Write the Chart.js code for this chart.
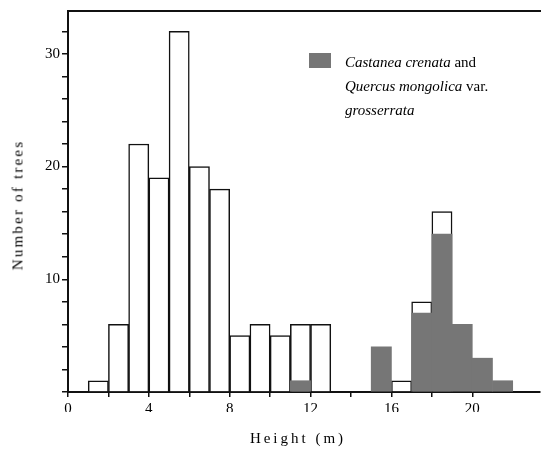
<!DOCTYPE html>
<html>
<head>
<meta charset="utf-8">
<script src="https://cdn.jsdelivr.net/npm/chart.js@4/dist/chart.umd.min.js"></script>
<style>
  html, body { margin: 0; padding: 0; background: #fff; }
  #wrap { position: relative; width: 546px; height: 454px; font-family: "Liberation Serif", "DejaVu Serif", serif; color: #000; }
  #myChart { position: absolute; left: 0; top: 0; }
  .legend { position: absolute; left: 309px; top: 50px; font-size: 15px; line-height: 24px; }
  .legend .sw { position: absolute; left: 0; top: 3px; width: 22px; height: 15px; background: #767676; }
  .legend .txt { position: absolute; left: 36px; top: 0; white-space: nowrap; }
  .xtitle { position: absolute; left: 0; width: 596px; top: 430px; text-align: center; font-size: 15px; letter-spacing: 3px; }
  .ytitle { position: absolute; left: 18px; top: 205px; font-size: 15px; letter-spacing: 2.2px; white-space: nowrap; transform: translate(-50%, -50%) rotate(-90deg); }
</style>
</head>
<body>
<div id="wrap">
  <canvas id="myChart" width="546" height="454"></canvas>
  <div class="legend">
    <div class="sw"></div>
    <div class="txt"><i>Castanea crenata</i> and<br><i>Quercus mongolica</i> var.<br><i>grosserrata</i></div>
  </div>
  <div class="xtitle">Height (m)</div>
  <div class="ytitle">Number of trees</div>
</div>
<script>
// bins are 1 m wide, listed by their lower edge
const binStart = [1, 2, 3, 4, 5, 6, 7, 8, 9, 10, 11, 12, 13, 14, 15, 16, 17, 18, 19, 20, 21];
const allTrees = [1, 6, 22, 19, 32, 20, 18, 5, 6, 5, 6, 6, 0, 0, 4, 1, 8, 16, 6, 3, 1];
const oakChestnut = [0, 0, 0, 0, 0, 0, 0, 0, 0, 0, 1, 0, 0, 0, 4, 0, 7, 14, 6, 3, 1];
const xLabels = [0, 4, 8, 12, 16, 20];
const yLabels = [10, 20, 30];

const whiteData = binStart.map((s, i) => ({ x: s + 0.5, y: allTrees[i] > oakChestnut[i] ? allTrees[i] : null }));
const greyData = binStart.map((s, i) => ({ x: s + 0.5, y: oakChestnut[i] > 0 ? oakChestnut[i] : null }));

const tickFont = { family: "Liberation Serif", size: 15 };

const config = {
  type: "bar",
  data: {
    datasets: [
      {
        label: "Castanea crenata and Quercus mongolica var. grosserrata",
        data: greyData,
        backgroundColor: "#767676",
        borderWidth: 0,
        grouped: false,
        barPercentage: 1,
        categoryPercentage: 1,
      },
      {
        label: "All trees",
        data: whiteData,
        backgroundColor: "#fff",
        borderColor: "#111",
        borderWidth: 1.5,
        grouped: false,
        barPercentage: 1,
        categoryPercentage: 1,
      },
    ],
  },
  options: {
    responsive: false,
    animation: false,
    layout: { padding: { left: 30, top: 10, right: 6, bottom: 42 } },
    plugins: { legend: { display: false }, tooltip: { enabled: false } },
    scales: {
      x: {
        type: "linear",
        offset: false,
        min: 0,
        max: 23.35,
        afterBuildTicks: (s) => { s.ticks = s.ticks.filter((t) => t.value % 2 === 0); },
        afterFit: (s) => { s.height = 20; },
        ticks: {
          stepSize: 2,
          autoSkip: false,
          maxRotation: 0,
          color: "#000",
          font: tickFont,
          padding: 3,
          callback: (v) => (xLabels.includes(v) ? String(v) : ""),
        },
        grid: { offset: false, drawOnChartArea: false, drawTicks: true, tickLength: 5, color: "#111", lineWidth: 1.5 },
        border: { display: true, color: "#111", width: 2 },
      },
      x2: {
        type: "linear",
        position: "top",
        offset: false,
        min: 0,
        max: 23.35,
        afterFit: (s) => { s.height = 0; },
        ticks: { display: false },
        grid: { drawOnChartArea: false, drawTicks: false },
        border: { display: true, color: "#111", width: 2 },
      },
      y: {
        min: 0,
        max: 33.8,
        afterBuildTicks: (s) => { s.ticks = s.ticks.filter((t) => t.value % 2 === 0); },
        afterFit: (s) => { s.width = 38; },
        ticks: {
          stepSize: 2,
          autoSkip: false,
          color: "#000",
          font: tickFont,
          padding: 2,
          callback: (v) => (yLabels.includes(v) ? String(v) : ""),
        },
        grid: { drawOnChartArea: false, drawTicks: true, tickLength: 6, color: "#111", lineWidth: 1.5 },
        border: { display: true, color: "#111", width: 2 },
      },
    },
  },
};

const myChart = new Chart(document.getElementById("myChart"), config);
</script>
</body>
</html>
